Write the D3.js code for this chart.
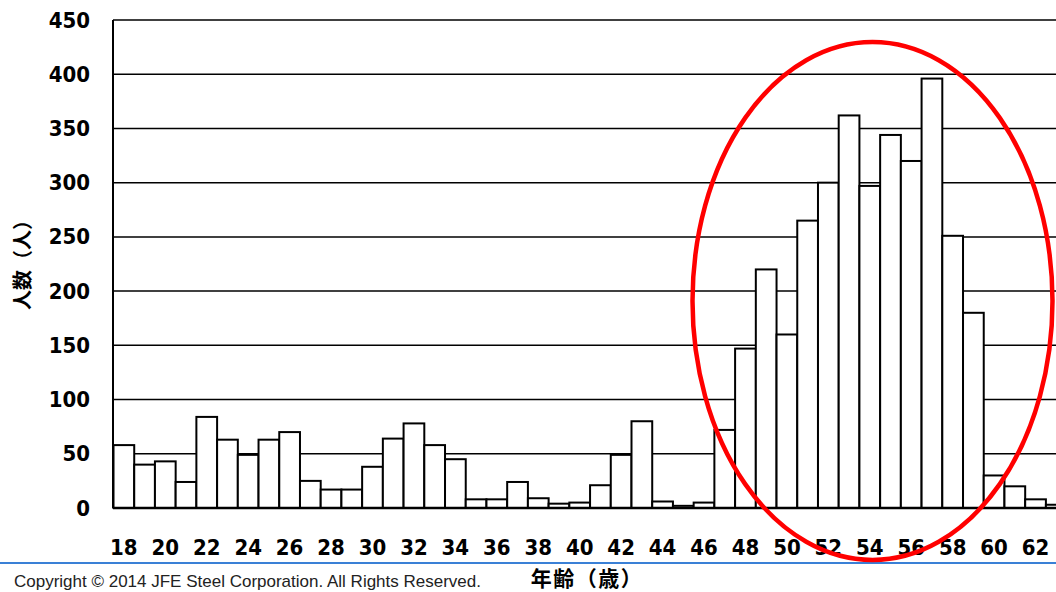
<!DOCTYPE html>
<html><head><meta charset="utf-8">
<script src="https://cdn.jsdelivr.net/npm/d3@7"></script>
<style>body{margin:0;background:#fff;overflow:hidden}</style>
</head><body>
<svg id="c" width="1056" height="592"></svg>
<script>
const ages = d3.range(18, 64);
const counts = [58,40,43,24,84,63,49,63,70,25,17,17,38,64,78,58,45,8,8,24,9,4,5,21,49,80,6,2,5,72,147,220,160,265,300,362,297,344,320,396,251,180,30,20,8,3];
const yTicks = [0,50,100,150,200,250,300,350,400,450];
const xTickLabels = d3.range(18, 63, 2);
const yTitle = "人数（人）";
const xTitle = "年齢（歳）";
const copyright = "Copyright © 2014 JFE Steel Corporation. All Rights Reserved.";

const svg = d3.select("#c");
const x = d3.scaleBand().domain(ages).range([113.5, 113.5 + 46*20.72]).padding(0);
const y = d3.scaleLinear().domain([0,450]).range([508,20]);
const numFont = "'Liberation Sans Narrow','DejaVu Sans Condensed','Liberation Sans',sans-serif";
const cjkFont = "'Noto Sans CJK JP',sans-serif";

// gridlines
svg.append("g").selectAll("line").data(yTicks).join("line")
  .attr("x1", 113).attr("x2", 1056)
  .attr("y1", d=>y(d)).attr("y2", d=>y(d))
  .attr("stroke","#000").attr("stroke-width",1.5);

// bars
svg.append("g").selectAll("rect").data(ages).join("rect")
  .attr("x", d=>x(d)).attr("width", x.bandwidth())
  .attr("y", (d,i)=>y(counts[i])).attr("height", (d,i)=>y(0)-y(counts[i]))
  .attr("fill","#fff").attr("stroke","#000").attr("stroke-width",2);

// axes lines
svg.append("line").attr("x1",113).attr("x2",113).attr("y1",y(450)).attr("y2",y(0)).attr("stroke","#000").attr("stroke-width",2);
svg.append("line").attr("x1",113).attr("x2",1056).attr("y1",y(0)).attr("y2",y(0)).attr("stroke","#000").attr("stroke-width",2.5);

// y tick labels
svg.append("g").selectAll("text").data(yTicks).join("text")
  .attr("x", 90).attr("y", d=>y(d)+7.5)
  .attr("text-anchor","end")
  .style("font-family", numFont).style("font-weight","bold").style("font-size","22px")
  .text(d=>d);

// x tick labels
svg.append("g").selectAll("text").data(xTickLabels).join("text")
  .attr("x", d=>x(d)+x.bandwidth()/2).attr("y", 555)
  .attr("text-anchor","middle")
  .style("font-family", numFont).style("font-weight","bold").style("font-size","22px")
  .text(d=>d);

// y title
svg.append("text").attr("transform","translate(30,260) rotate(-90)")
  .attr("text-anchor","middle")
  .style("font-family", cjkFont).style("font-weight","bold").style("font-size","20px")
  .text(yTitle);

// blue line
svg.append("line").attr("x1",0).attr("x2",1056).attr("y1",563).attr("y2",563).attr("stroke","#3a80d6").attr("stroke-width",2);

// x title
svg.append("text").attr("x",587).attr("y",586).attr("text-anchor","middle")
  .style("font-family", cjkFont).style("font-weight","bold").style("font-size","21px")
  .style("letter-spacing","1.5px")
  .text(xTitle);

// copyright
svg.append("text").attr("x",481).attr("y",587).attr("text-anchor","end")
  .style("font-family","'Liberation Sans',Arial,sans-serif").style("font-size","17px").attr("fill","#222")
  .text(copyright);

// red ellipse highlight
svg.append("ellipse").attr("cx",872.5).attr("cy",301).attr("rx",180).attr("ry",259)
  .attr("fill","none").attr("stroke","#ff0000").attr("stroke-width",4.5);
</script>
</body></html>
